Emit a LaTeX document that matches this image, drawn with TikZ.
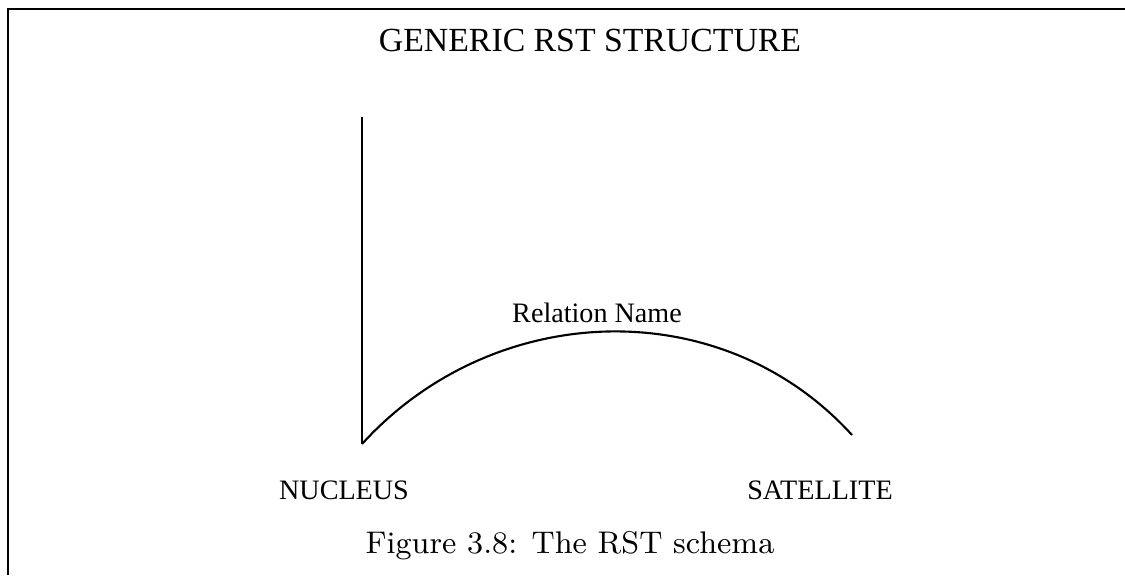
\documentclass[tikz,border=0pt]{standalone}
\usepackage{fontspec}
\newfontfamily\timesfont{Liberation Serif}
\usetikzlibrary{calc}
\usetikzlibrary{positioning}

\begin{document}
\begin{tikzpicture}[x=0.01cm,y=-0.01cm]
% rst schema, one unit per pixel of the scan

	 \tikzstyle{frame}=[draw,line width=0.8pt,black]
	 \tikzstyle{edge}=[draw,line width=0.6pt,-,black]
	 \tikzstyle{label}=[inner sep=0pt,font=\timesfont\fontsize{8}{9}\selectfont]
	 \tikzstyle{heading}=[inner sep=0pt,font=\timesfont\fontsize{9.6}{11}\selectfont]
	 \tikzstyle{caption}=[inner sep=0pt,font=\fontsize{8.9}{10}\selectfont]
	 \useasboundingbox (0,0) rectangle (1125,575);
	 \coordinate (fbot) at (8,575);
	 \coordinate (ftop) at (8,9);
	 \coordinate (fright) at (1125,9);
	 \draw[frame] (fbot) -- (ftop) -- (fright);
	 \node[heading] (title) at (590,40) {GENERIC RST STRUCTURE};
	 \coordinate (ntop) at (362,117);
	 \coordinate (nend) at (362,444);
	 \coordinate (send) at (852,435);
	 \node[label] (relname) at (597,313) {Relation Name};
	 \node[label] (nucleus) at (344,490) {NUCLEUS};
	 \node[label] (satellite) at (820,490) {SATELLITE};
	 \node[caption] (caption) at (570,546) {Figure 3.8: The RST schema};
	 \draw[edge] (ntop) -- (nend);
	 \draw[edge] (nend) .. controls (493,300) and (721,291) .. (send);
  
\end{tikzpicture}
\end{document}
